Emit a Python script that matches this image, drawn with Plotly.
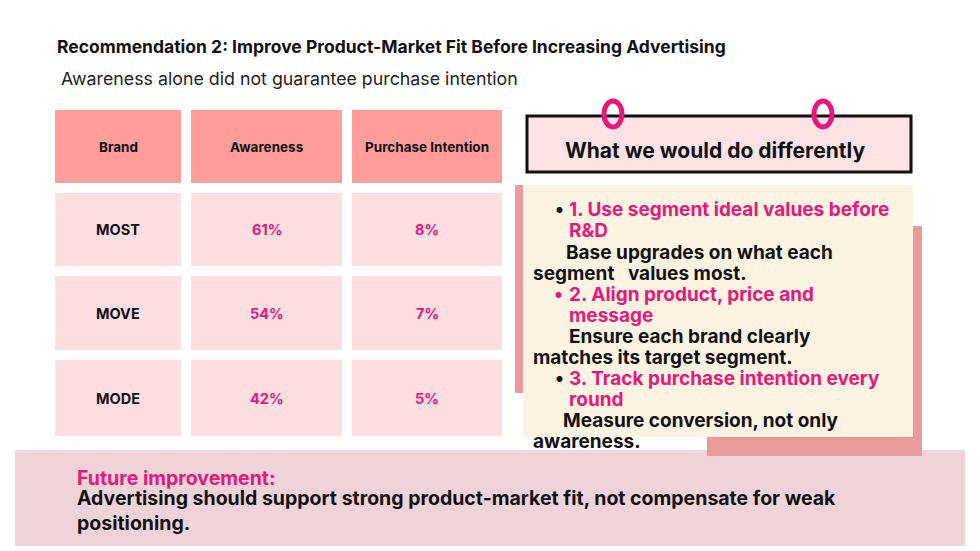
import plotly.graph_objects as go

brands = ["MOST", "MOVE", "MODE"]
awareness = [61, 54, 42]
purchase = [8, 7, 5]
headers = ["Brand", "Awareness", "Purchase Intention"]

col_x = [(55, 181), (191, 342), (352, 502)]
row_y = [(110, 183), (193, 266), (276, 350), (360, 436)]
PINK = "#E6197A"
F = "Inter"

fig = go.Figure()
fig.add_trace(go.Scatter(x=[0, 980], y=[0, 551], mode="markers", marker=dict(opacity=0), hoverinfo="skip"))
shapes, ann = [], []

def rect(x0, y0, x1, y1, fill, line=None, w=0):
    shapes.append(dict(type="rect", x0=x0, x1=x1, y0=y0, y1=y1, fillcolor=fill,
                       line=dict(color=line or fill, width=w), layer="below"))

def txt(x, y, s, size, color="#111", xa="center", bold=True, ya="middle"):
    ann.append(dict(x=x, y=y, text=f"<b>{s}</b>" if bold else s, showarrow=False,
                    xanchor=xa, yanchor=ya, align="left",
                    font=dict(family=F, size=size, color=color)))

# table
for r, (y0, y1) in enumerate(row_y):
    for c, (x0, x1) in enumerate(col_x):
        rect(x0, y0, x1, y1, "#FF9E9B" if r == 0 else "#FFDEE1")
for c, (x0, x1) in enumerate(col_x):
    txt((x0 + x1) / 2, sum(row_y[0]) / 2, headers[c], 13.5)
for i, b in enumerate(brands):
    yc = sum(row_y[i + 1]) / 2
    txt(sum(col_x[0]) / 2, yc, b, 14.5)
    txt(sum(col_x[1]) / 2, yc, f"{awareness[i]}%", 14.5, PINK)
    txt(sum(col_x[2]) / 2, yc, f"{purchase[i]}%", 14.5, PINK)

# titles
txt(55, 46, "Recommendation 2: Improve Product-Market Fit Before Increasing Advertising", 17.5, xa="left")
txt(59, 78, "Awareness alone did not guarantee purchase intention", 17.8, "#222", xa="left", bold=False)

# bottom band
rect(15, 450, 965, 546, "#F0D3D9")
txt(75, 478, "Future improvement:", 19.5, PINK, xa="left")
txt(75, 510, "Advertising should support strong product-market fit, not compensate for weak<br>positioning.", 19.5, xa="left")

# right panel
rect(707, 226, 922, 456, "#E99A9A")
rect(515, 185, 523, 393, "#E99A9A")
rect(523, 185, 913, 437, "#FDF3E2")
rect(527, 116, 911, 172, "#FDE3E6", "#111", 3)
for cx in (613, 823):
    shapes.append(dict(type="circle", x0=cx - 9, x1=cx + 9, y0=101, y1=127,
                       line=dict(color="#E6197A", width=5), fillcolor="rgba(0,0,0,0)"))
txt(715, 150, "What we would do differently", 21)

lines = [
    (553, 209, "•", "#111"), (567, 209, "1. Use segment ideal values before", PINK),
    (567, 230, "R&D", PINK),
    (564, 252, "Base upgrades on what each", "#111"),
    (531, 273, "segment   values most.", "#111"),
    (552, 294, "•", PINK), (567, 294, "2. Align product, price and", PINK),
    (567, 315, "message", PINK),
    (567, 336, "Ensure each brand clearly", "#111"),
    (531, 357, "matches its target segment.", "#111"),
    (553, 378, "•", "#111"), (567, 378, "3. Track purchase intention every", PINK),
    (567, 399, "round", PINK),
    (561, 420, "Measure conversion, not only", "#111"),
    (531, 441, "awareness.", "#111"),
]
for x, y, s, col in lines:
    txt(x, y, s, 19, col, xa="left")

fig.update_layout(width=980, height=551, margin=dict(l=0, r=0, t=0, b=0),
                  paper_bgcolor="white", plot_bgcolor="white", showlegend=False,
                  xaxis=dict(range=[8, 988], visible=False, fixedrange=True),
                  yaxis=dict(range=[559, 8], visible=False, fixedrange=True),
                  shapes=shapes, annotations=ann)
fig.write_html("out.html")
